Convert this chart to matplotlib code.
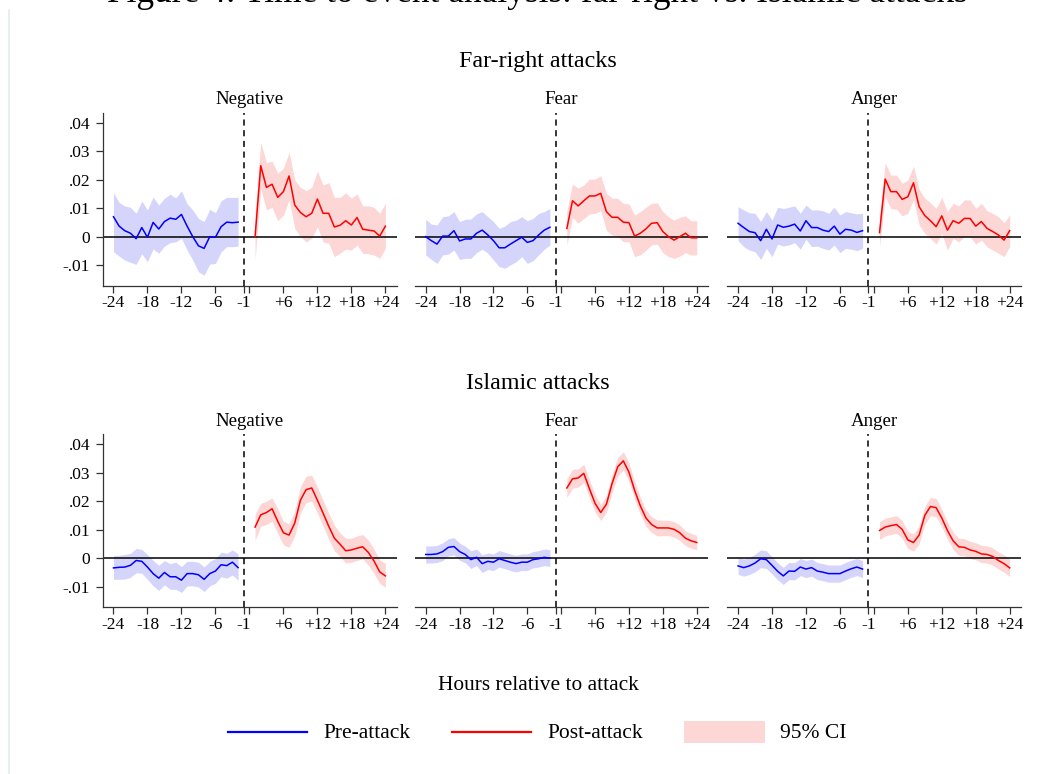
import numpy as np
import matplotlib
matplotlib.use("Agg")
import matplotlib.pyplot as plt
from matplotlib.lines import Line2D
from matplotlib.patches import Rectangle

plt.rcParams['font.family'] = ['Liberation Serif', 'DejaVu Serif']

# ---------------------------------------------------------------- data
hours_pre = list(range(-24, -1))      # -24 .. -2
hours_post = list(range(1, 25))       # +1 .. +24

x_ticks = [-24, -18, -12, -6, -1, 0, 6, 12, 18, 24]
x_tick_labels = ['-24', '-18', '-12', '-6', '-1', '', '+6', '+12', '+18', '+24']
y_ticks = [-0.01, 0, 0.01, 0.02, 0.03, 0.04]
y_tick_labels = ['-.01', '0', '.01', '.02', '.03', '.04']

row_titles = ['Far-right attacks', 'Islamic attacks']
emotions = ['Negative', 'Fear', 'Anger']

# Far-right attacks -- Negative
fr_neg_pre = [0.0070, 0.0037, 0.0021, 0.0012, -0.0007, 0.0032, -0.0002, 0.0050, 0.0027, 0.0053, 0.0065, 0.0061,
              0.0078, 0.0037, 0.0000, -0.0032, -0.0041, 0.0000, -0.0002, 0.0035, 0.0051, 0.0049, 0.0051]
fr_neg_pre_hi = [0.0154, 0.0120, 0.0108, 0.0103, 0.0082, 0.0125, 0.0094, 0.0139, 0.0111, 0.0135, 0.0149, 0.0136,
                 0.0161, 0.0115, 0.0094, 0.0064, 0.0053, 0.0096, 0.0084, 0.0126, 0.0138, 0.0138, 0.0138]
fr_neg_pre_lo = [-0.0053, -0.0068, -0.0082, -0.0090, -0.0097, -0.0060, -0.0088, -0.0043, -0.0058, -0.0033, -0.0021,
                 -0.0018, -0.0006, -0.0047, -0.0082, -0.0123, -0.0135, -0.0096, -0.0094, -0.0053, -0.0035, -0.0035,
                 -0.0033]
fr_neg_post = [0.0000, 0.0249, 0.0173, 0.0184, 0.0138, 0.0158, 0.0213, 0.0111, 0.0085, 0.0070, 0.0082, 0.0132,
               0.0082, 0.0082, 0.0034, 0.0040, 0.0056, 0.0041, 0.0067, 0.0026, 0.0023, 0.0020, 0.0002, 0.0037]
fr_neg_post_hi = [0.0080, 0.0330, 0.0260, 0.0265, 0.0222, 0.0240, 0.0296, 0.0199, 0.0173, 0.0161, 0.0173, 0.0230,
                  0.0181, 0.0190, 0.0138, 0.0138, 0.0154, 0.0135, 0.0150, 0.0108, 0.0108, 0.0103, 0.0082, 0.0117]
fr_neg_post_lo = [-0.0082, 0.0170, 0.0094, 0.0103, 0.0056, 0.0076, 0.0129, 0.0029, 0.0000, -0.0018, -0.0006, 0.0035,
                  -0.0018, -0.0023, -0.0070, -0.0058, -0.0044, -0.0047, -0.0029, -0.0058, -0.0060, -0.0064, -0.0076,
                  -0.0041]

# Far-right attacks -- Fear
fr_fear_pre = [0.0000, -0.0014, -0.0026, 0.0002, 0.0002, 0.0021, -0.0015, -0.0008, -0.0008, 0.0012, 0.0023, 0.0006,
               -0.0014, -0.0039, -0.0039, -0.0026, -0.0014, -0.0002, -0.0020, -0.0014, 0.0006, 0.0023, 0.0033]
fr_fear_pre_hi = [0.0061, 0.0044, 0.0041, 0.0070, 0.0073, 0.0088, 0.0053, 0.0061, 0.0062, 0.0080, 0.0088, 0.0070,
                  0.0053, 0.0029, 0.0037, 0.0053, 0.0058, 0.0070, 0.0056, 0.0064, 0.0082, 0.0088, 0.0099]
fr_fear_pre_lo = [-0.0064, -0.0080, -0.0094, -0.0064, -0.0061, -0.0047, -0.0080, -0.0076, -0.0076, -0.0056, -0.0044,
                  -0.0058, -0.0082, -0.0105, -0.0111, -0.0099, -0.0088, -0.0070, -0.0094, -0.0084, -0.0064, -0.0044,
                  -0.0029]
fr_fear_post = [0.0029, 0.0126, 0.0108, 0.0126, 0.0143, 0.0143, 0.0152, 0.0088, 0.0068, 0.0068, 0.0051, 0.0049,
                0.0002, 0.0012, 0.0027, 0.0047, 0.0049, 0.0018, 0.0000, -0.0012, 0.0000, 0.0012, -0.0004, -0.0004]
fr_fear_post_hi = [0.0090, 0.0185, 0.0170, 0.0181, 0.0202, 0.0202, 0.0214, 0.0152, 0.0135, 0.0135, 0.0117, 0.0115,
                   0.0076, 0.0088, 0.0103, 0.0117, 0.0119, 0.0088, 0.0070, 0.0058, 0.0068, 0.0073, 0.0056, 0.0056]
fr_fear_post_lo = [-0.0029, 0.0068, 0.0047, 0.0064, 0.0080, 0.0082, 0.0091, 0.0023, 0.0006, 0.0002, -0.0018, -0.0018,
                   -0.0070, -0.0064, -0.0047, -0.0029, -0.0026, -0.0056, -0.0070, -0.0076, -0.0068, -0.0056, -0.0064,
                   -0.0064]

# Far-right attacks -- Anger
fr_anger_pre = [0.0047, 0.0032, 0.0018, 0.0014, -0.0014, 0.0026, -0.0008, 0.0041, 0.0033, 0.0037, 0.0044, 0.0020,
                0.0056, 0.0032, 0.0032, 0.0023, 0.0018, 0.0037, 0.0009, 0.0026, 0.0023, 0.0015, 0.0021]
fr_anger_pre_hi = [0.0105, 0.0094, 0.0084, 0.0082, 0.0053, 0.0088, 0.0058, 0.0103, 0.0099, 0.0103, 0.0108, 0.0082,
                   0.0111, 0.0094, 0.0094, 0.0091, 0.0082, 0.0103, 0.0076, 0.0088, 0.0084, 0.0080, 0.0082]
fr_anger_pre_lo = [-0.0014, -0.0035, -0.0047, -0.0053, -0.0080, -0.0041, -0.0070, -0.0026, -0.0033, -0.0029, -0.0021,
                   -0.0044, -0.0009, -0.0035, -0.0033, -0.0041, -0.0047, -0.0029, -0.0056, -0.0041, -0.0044, -0.0049,
                   -0.0041]
fr_anger_post = [0.0014, 0.0202, 0.0158, 0.0158, 0.0131, 0.0140, 0.0189, 0.0105, 0.0074, 0.0056, 0.0035, 0.0073,
                 0.0023, 0.0056, 0.0047, 0.0064, 0.0064, 0.0037, 0.0053, 0.0029, 0.0018, 0.0006, -0.0012, 0.0021]
fr_anger_post_hi = [0.0070, 0.0260, 0.0216, 0.0216, 0.0187, 0.0199, 0.0248, 0.0166, 0.0135, 0.0119, 0.0099, 0.0138,
                    0.0088, 0.0117, 0.0108, 0.0129, 0.0129, 0.0099, 0.0117, 0.0091, 0.0082, 0.0070, 0.0049, 0.0076]
fr_anger_post_lo = [-0.0035, 0.0140, 0.0099, 0.0096, 0.0073, 0.0082, 0.0129, 0.0041, 0.0012, -0.0006, -0.0026, 0.0012,
                    -0.0047, -0.0006, -0.0018, 0.0000, 0.0000, -0.0026, -0.0012, -0.0035, -0.0047, -0.0058, -0.0070,
                    -0.0035]

# Islamic attacks -- Negative
is_neg_pre = [-0.0034, -0.0032, -0.0031, -0.0025, -0.0008, -0.0011, -0.0031, -0.0054, -0.0070, -0.0050, -0.0065,
              -0.0065, -0.0077, -0.0054, -0.0054, -0.0058, -0.0074, -0.0054, -0.0045, -0.0023, -0.0026, -0.0014,
              -0.0033]
is_neg_pre_hi = [0.0009, 0.0010, 0.0013, 0.0017, 0.0034, 0.0031, 0.0013, -0.0008, -0.0025, -0.0008, -0.0019, -0.0014,
                 -0.0029, -0.0011, -0.0011, -0.0014, -0.0031, -0.0011, -0.0001, 0.0021, 0.0017, 0.0029, 0.0015]
is_neg_pre_lo = [-0.0074, -0.0074, -0.0073, -0.0067, -0.0051, -0.0053, -0.0074, -0.0097, -0.0113, -0.0093, -0.0109,
                 -0.0109, -0.0120, -0.0097, -0.0097, -0.0101, -0.0117, -0.0097, -0.0088, -0.0065, -0.0070, -0.0059,
                 -0.0077]
is_neg_post = [0.0109, 0.0152, 0.0160, 0.0173, 0.0129, 0.0089, 0.0081, 0.0123, 0.0203, 0.0240, 0.0246, 0.0203,
               0.0158, 0.0112, 0.0070, 0.0049, 0.0026, 0.0029, 0.0035, 0.0040, 0.0020, -0.0010, -0.0048, -0.0062]
is_neg_post_hi = [0.0154, 0.0192, 0.0200, 0.0211, 0.0173, 0.0129, 0.0120, 0.0166, 0.0251, 0.0287, 0.0291, 0.0249,
                  0.0203, 0.0158, 0.0115, 0.0089, 0.0070, 0.0070, 0.0078, 0.0083, 0.0063, 0.0032, -0.0006, -0.0019]
is_neg_post_lo = [0.0063, 0.0112, 0.0118, 0.0129, 0.0086, 0.0047, 0.0038, 0.0078, 0.0158, 0.0195, 0.0200, 0.0158,
                  0.0112, 0.0066, 0.0026, 0.0006, -0.0017, -0.0014, -0.0008, -0.0002, -0.0025, -0.0054, -0.0088,
                  -0.0102]

# Islamic attacks -- Fear
is_fear_pre = [0.0013, 0.0013, 0.0015, 0.0023, 0.0038, 0.0041, 0.0023, 0.0013, -0.0005, 0.0003, -0.0019, -0.0011,
               -0.0014, -0.0002, -0.0008, -0.0014, -0.0019, -0.0014, -0.0014, -0.0005, -0.0002, 0.0003, 0.0000]
is_fear_pre_hi = [0.0043, 0.0043, 0.0045, 0.0054, 0.0068, 0.0072, 0.0053, 0.0042, 0.0026, 0.0032, 0.0012, 0.0018,
                  0.0015, 0.0027, 0.0021, 0.0015, 0.0010, 0.0015, 0.0015, 0.0023, 0.0027, 0.0032, 0.0030]
is_fear_pre_lo = [-0.0017, -0.0017, -0.0015, -0.0008, 0.0008, 0.0011, -0.0007, -0.0016, -0.0036, -0.0026, -0.0050,
                  -0.0040, -0.0043, -0.0031, -0.0037, -0.0043, -0.0048, -0.0043, -0.0043, -0.0034, -0.0031, -0.0026,
                  -0.0029]
is_fear_post = [0.0246, 0.0278, 0.0281, 0.0297, 0.0243, 0.0192, 0.0160, 0.0189, 0.0261, 0.0320, 0.0341, 0.0301,
                0.0238, 0.0184, 0.0141, 0.0118, 0.0106, 0.0106, 0.0106, 0.0101, 0.0089, 0.0070, 0.0061, 0.0055]
is_fear_post_hi = [0.0279, 0.0311, 0.0313, 0.0329, 0.0275, 0.0222, 0.0188, 0.0218, 0.0292, 0.0353, 0.0373, 0.0333,
                   0.0269, 0.0214, 0.0170, 0.0146, 0.0134, 0.0133, 0.0133, 0.0128, 0.0116, 0.0096, 0.0087, 0.0080]
is_fear_post_lo = [0.0213, 0.0245, 0.0249, 0.0265, 0.0211, 0.0162, 0.0132, 0.0160, 0.0230, 0.0287, 0.0309, 0.0269,
                   0.0207, 0.0154, 0.0112, 0.0090, 0.0078, 0.0079, 0.0079, 0.0074, 0.0062, 0.0044, 0.0035, 0.0030]

# Islamic attacks -- Anger
is_anger_pre = [-0.0027, -0.0033, -0.0027, -0.0017, -0.0002, -0.0005, -0.0025, -0.0046, -0.0062, -0.0045, -0.0046,
                -0.0031, -0.0038, -0.0033, -0.0045, -0.0049, -0.0054, -0.0054, -0.0054, -0.0045, -0.0037, -0.0031,
                -0.0038]
is_anger_pre_hi = [0.0003, -0.0003, 0.0003, 0.0014, 0.0029, 0.0026, 0.0005, -0.0016, -0.0032, -0.0015, -0.0016,
                   -0.0001, -0.0008, -0.0003, -0.0015, -0.0019, -0.0024, -0.0024, -0.0024, -0.0015, -0.0007, -0.0001,
                   -0.0008]
is_anger_pre_lo = [-0.0057, -0.0063, -0.0057, -0.0048, -0.0033, -0.0036, -0.0055, -0.0076, -0.0092, -0.0075, -0.0076,
                   -0.0061, -0.0068, -0.0063, -0.0075, -0.0079, -0.0084, -0.0084, -0.0084, -0.0075, -0.0067, -0.0061,
                   -0.0068]
is_anger_post = [0.0097, 0.0109, 0.0114, 0.0118, 0.0101, 0.0064, 0.0055, 0.0081, 0.0150, 0.0181, 0.0177, 0.0141,
                 0.0097, 0.0061, 0.0040, 0.0038, 0.0029, 0.0024, 0.0015, 0.0013, 0.0006, -0.0008, -0.0019, -0.0034]
is_anger_post_hi = [0.0128, 0.0140, 0.0145, 0.0149, 0.0132, 0.0094, 0.0085, 0.0112, 0.0182, 0.0213, 0.0209, 0.0172,
                    0.0127, 0.0091, 0.0070, 0.0068, 0.0059, 0.0054, 0.0045, 0.0043, 0.0036, 0.0022, 0.0011, -0.0004]
is_anger_post_lo = [0.0066, 0.0078, 0.0083, 0.0087, 0.0070, 0.0034, 0.0025, 0.0050, 0.0118, 0.0149, 0.0145, 0.0110,
                    0.0067, 0.0031, 0.0010, 0.0008, -0.0001, -0.0006, -0.0015, -0.0017, -0.0024, -0.0038, -0.0049,
                    -0.0064]

panels = [
    [(fr_neg_pre, fr_neg_pre_lo, fr_neg_pre_hi, fr_neg_post, fr_neg_post_lo, fr_neg_post_hi),
     (fr_fear_pre, fr_fear_pre_lo, fr_fear_pre_hi, fr_fear_post, fr_fear_post_lo, fr_fear_post_hi),
     (fr_anger_pre, fr_anger_pre_lo, fr_anger_pre_hi, fr_anger_post, fr_anger_post_lo, fr_anger_post_hi)],
    [(is_neg_pre, is_neg_pre_lo, is_neg_pre_hi, is_neg_post, is_neg_post_lo, is_neg_post_hi),
     (is_fear_pre, is_fear_pre_lo, is_fear_pre_hi, is_fear_post, is_fear_post_lo, is_fear_post_hi),
     (is_anger_pre, is_anger_pre_lo, is_anger_pre_hi, is_anger_post, is_anger_post_lo, is_anger_post_hi)],
]

# ---------------------------------------------------------------- style
PRE_LINE = '#0000ff'
POST_LINE = '#ff0000'
PRE_BAND = '#d5d5fb'
POST_BAND = '#fdd6d6'

W, H = 1052, 774
fig = plt.figure(figsize=(W / 100, H / 100), dpi=100)
fig.patch.set_facecolor('white')


def fx(px):
    return px / W


def fy(py):
    return 1 - py / H


col_lr = [(102.7, 396.7), (415.0, 708.0), (727.3, 1021.0)]
row_tb = [(112.7, 285.7), (434.0, 607.3)]
row_title_y = [62, 383]
panel_title_y = [100, 421]

YLIM = (-0.0172, 0.0435)
XLIM = (-25.9, 26.0)

for r in range(2):
    top, bot = row_tb[r]
    fig.text(fx(538), fy(row_title_y[r]), row_titles[r], ha='center', va='center', fontsize=17.3)
    for c in range(3):
        left, right = col_lr[c]
        ax = fig.add_axes([fx(left), fy(bot), fx(right - left), (bot - top) / H])
        pre, pre_lo, pre_hi, post, post_lo, post_hi = panels[r][c]

        ax.fill_between(hours_pre, pre_lo, pre_hi, color=PRE_BAND, lw=0, zorder=1)
        ax.fill_between(hours_post, post_lo, post_hi, color=POST_BAND, lw=0, zorder=1)
        ax.axhline(0, color='black', lw=1.1, zorder=2)
        ax.axvline(-1, color='black', lw=1.1, ls=(0, (4, 3)), zorder=2)
        ax.plot(hours_pre, pre, color=PRE_LINE, lw=1.1, zorder=3)
        ax.plot(hours_post, post, color=POST_LINE, lw=1.1, zorder=3)

        ax.set_xlim(*XLIM)
        ax.set_ylim(*YLIM)
        ax.set_xticks(x_ticks)
        ax.set_xticklabels(x_tick_labels, fontsize=12.5)
        ax.tick_params(axis='x', length=5, width=0.9, pad=2, color='#333333')
        for s in ['top', 'right']:
            ax.spines[s].set_visible(False)
        ax.spines['bottom'].set_linewidth(0.9)
        ax.spines['bottom'].set_color('#333333')
        if c == 0:
            ax.set_yticks(y_ticks)
            ax.set_yticklabels(y_tick_labels, fontsize=12.5)
            ax.tick_params(axis='y', length=5, width=0.9, pad=4, color='#333333')
            ax.spines['left'].set_linewidth(0.9)
            ax.spines['left'].set_color('#333333')
        else:
            ax.spines['left'].set_visible(False)
            ax.set_yticks([])
        ax.set_facecolor('none')
        fig.text(fx((left + right) / 2), fy(panel_title_y[r]), emotions[c],
                 ha='center', va='center', fontsize=13.6)

# figure heading (sits partly above the page edge)
fig.text(fx(537), fy(1.5), 'Figure 4: Time to event analysis: far-right vs. Islamic attacks',
         ha='center', va='baseline', fontsize=25.5)

fig.text(fx(538), fy(685), 'Hours relative to attack', ha='center', va='center', fontsize=15.4)

# legend
ly = fy(732)
ty = fy(734)
fig.add_artist(Line2D([fx(228), fx(307)], [ly, ly], color=PRE_LINE, lw=1.6))
fig.text(fx(323), ty, 'Pre-attack', ha='left', va='center', fontsize=15.5)
fig.add_artist(Line2D([fx(452), fx(531)], [ly, ly], color=POST_LINE, lw=1.6))
fig.text(fx(547), ty, 'Post-attack', ha='left', va='center', fontsize=15.5)
fig.add_artist(Rectangle((fx(684), fy(743)), fx(81), 22 / H, color=POST_BAND, lw=0))
fig.text(fx(780), ty, '95% CI', ha='left', va='center', fontsize=15.5)

# thin page border on the left
fig.add_artist(Line2D([fx(8.5), fx(8.5)], [fy(10), 0], color='#e4eaea', lw=1.2))

fig.savefig('out.png', dpi=100)
